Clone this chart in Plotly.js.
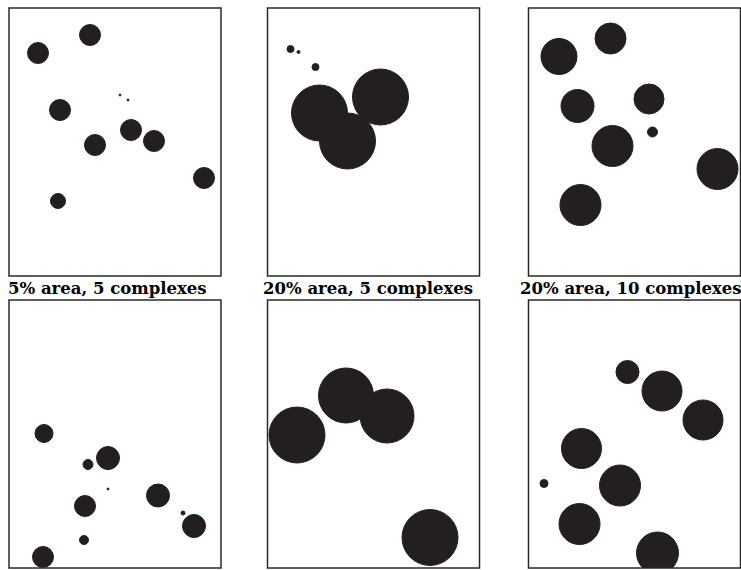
<!DOCTYPE html>
<html>
<head>
<meta charset="utf-8">
<script src="https://cdn.plot.ly/plotly-3.0.1.min.js"></script>
<style>
  html, body { margin: 0; padding: 0; background: #ffffff; }
  #chart { width: 741px; height: 570px; }
</style>
</head>
<body>
<div id="chart"></div>
<script>
// Captions printed between the two rows (one per column)
const panelLabels = ["5% area, 5 complexes", "20% area, 5 complexes", "20% area, 10 complexes"];

// Complex positions in each field: x to the right, y downward from the
// field's top-left corner, plus radius (same units, field is 212 x 268)
const p1X = [29, 81, 51, 86, 122, 145, 195, 49, 111, 119];
const p1Y = [45, 27, 102, 137, 122, 133, 170, 193, 87, 92];
const p1R = [10.5, 10.5, 10.5, 10.5, 10.5, 10.5, 10.5, 7.5, 1, 1];

const p2X = [52, 80, 113, 48, 23, 31];
const p2Y = [105, 133, 89, 59, 41, 44];
const p2R = [28, 28, 28, 3.5, 3.5, 1.5];

const p3X = [30.5, 82, 49, 120.5, 84, 124, 189, 52];
const p3Y = [48.5, 30.5, 98, 91, 138, 124, 161, 197];
const p3R = [18, 15.5, 16.5, 15, 20.5, 5, 20.5, 20.5];

const p4X = [35, 79, 99, 76, 149, 185, 174, 75, 34, 99];
const p4Y = [133.5, 164.5, 158, 206, 195.5, 226, 213, 240, 257, 189];
const p4R = [9, 5, 11.5, 10.5, 11.5, 11.5, 2, 4.5, 10.5, 1];

const p5X = [78.5, 119.5, 29.5, 162.5];
const p5Y = [95.5, 116, 135, 237.5];
const p5R = [27.5, 27, 28, 28];

const p6X = [99, 133.5, 174.5, 53, 91.5, 15.5, 51, 129];
const p6Y = [72, 91, 120, 148.5, 185.5, 183.5, 224, 253];
const p6R = [11.5, 20, 20, 20, 20.5, 4, 20.5, 21];

const panels = [
  {x: p1X, y: p1Y, r: p1R},
  {x: p2X, y: p2Y, r: p2R},
  {x: p3X, y: p3Y, r: p3R},
  {x: p4X, y: p4Y, r: p4R},
  {x: p5X, y: p5Y, r: p5R},
  {x: p6X, y: p6Y, r: p6R}
];

// Page geometry (pixels)
const W = 741, H = 570;
const FIELD_W = 212, FIELD_H = 268;
const colLeft = [9, 267.5, 528.5];
const rowTop = [8, 300];
const BLOB = "#231f20";

const traces = [];
const layout = {
  width: W, height: H,
  margin: {l: 0, r: 0, t: 0, b: 0},
  paper_bgcolor: "#ffffff",
  plot_bgcolor: "#ffffff",
  showlegend: false,
  shapes: [],
  annotations: []
};

panels.forEach((p, i) => {
  const col = i % 3, row = Math.floor(i / 3);
  const n = i + 1;
  const xa = n === 1 ? "xaxis" : "xaxis" + n;
  const ya = n === 1 ? "yaxis" : "yaxis" + n;
  const xr = n === 1 ? "x" : "x" + n;
  const yr = n === 1 ? "y" : "y" + n;

  const x0 = colLeft[col], y0 = rowTop[row];
  layout[xa] = {
    domain: [x0 / W, (x0 + FIELD_W) / W],
    range: [0, FIELD_W],
    anchor: yr,
    showgrid: false, zeroline: false, showticklabels: false, ticks: "", showline: false,
    fixedrange: true
  };
  layout[ya] = {
    domain: [1 - (y0 + FIELD_H) / H, 1 - y0 / H],
    range: [FIELD_H, 0],
    anchor: xr,
    showgrid: false, zeroline: false, showticklabels: false, ticks: "", showline: false,
    fixedrange: true
  };

  // invisible anchor trace so each field exists as a subplot
  traces.push({
    type: "scatter", mode: "markers",
    x: p.x, y: p.y, xaxis: xr, yaxis: yr,
    marker: {size: 1, opacity: 0},
    hoverinfo: "skip"
  });

  // each complex drawn as a filled disc in data coordinates
  p.x.forEach((cx, k) => {
    const cy = p.y[k], r = p.r[k];
    layout.shapes.push({
      type: "circle", xref: xr, yref: yr,
      x0: cx - r, x1: cx + r, y0: cy - r, y1: cy + r,
      fillcolor: BLOB, line: {color: BLOB, width: 1}
    });
  });

  // field frame
  layout.shapes.push({
    type: "rect", xref: xr + " domain", yref: yr + " domain",
    x0: 0, x1: 1, y0: 0, y1: 1,
    line: {color: "#2a2a2a", width: 1.5}, fillcolor: "rgba(0,0,0,0)", layer: "above"
  });
});

// captions below the top row
const captionCenters = [107.5, 367.5, 631];
panelLabels.forEach((t, i) => {
  layout.annotations.push({
    text: t, xref: "paper", yref: "paper",
    x: captionCenters[i] / W, y: 1 - 288 / H,
    xanchor: "center", yanchor: "middle", showarrow: false,
    font: {family: "DejaVu Serif", size: 16.5, color: "#000000", weight: "bold"}
  });
});

Plotly.newPlot("chart", traces, layout, {displayModeBar: false, staticPlot: true});
</script>
</body>
</html>
